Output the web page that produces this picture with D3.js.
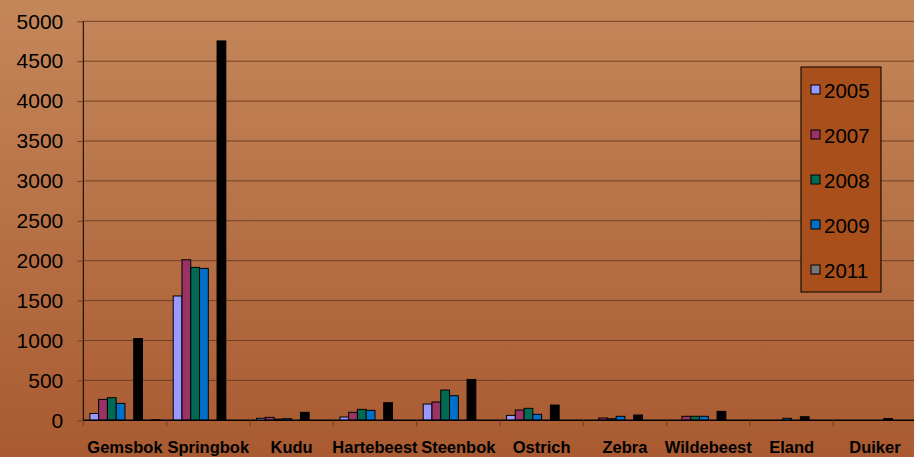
<!DOCTYPE html>
<html>
<head>
<meta charset="utf-8">
<script src="https://cdn.jsdelivr.net/npm/d3@7"></script>
<style>
  body { margin: 0; overflow: hidden; }
  text { font-family: "Liberation Sans", Arial, sans-serif; }
</style>
</head>
<body>
<script>
// Chart data
var species = ["Gemsbok", "Springbok", "Kudu", "Hartebeest", "Steenbok", "Ostrich", "Zebra", "Wildebeest", "Eland", "Duiker"];
var seriesNames = ["2005", "2007", "2008", "2009", "2011", "Series 6", "Series 7", "Series 8"];
var seriesColors = ["#9999ff", "#993366", "#006b52", "#0070c8", "#777777", "#000000", "#333399", "#000000"];
var yTicks = [0, 500, 1000, 1500, 2000, 2500, 3000, 3500, 4000, 4500, 5000];

var v2005 = [85, 1558, 25, 41, 204, 62, 0, 0, 0, 0];
var v2007 = [262, 2012, 37, 100, 229, 129, 29, 50, 0, 0];
var v2008 = [283, 1916, 15, 137, 379, 150, 20, 50, 0, 0];
var v2009 = [212, 1904, 20, 125, 308, 75, 50, 50, 25, 0];
var v2011 = [0, 0, 0, 0, 0, 0, 0, 0, 0, 0];
var vSeries6 = [1025, 4754, 100, 220, 512, 191, 66, 112, 45, 22];
var vSeries7 = [0, 0, 0, 0, 0, 0, 0, 0, 0, 0];
var vSeries8 = [6, 0, 0, 0, 0, 0, 0, 0, 0, 0];

var allValues = [v2005, v2007, v2008, v2009, v2011, vSeries6, vSeries7, vSeries8];
var legendCount = 5; // legend box only shows the first five

// Chart params
var svgWidth = 914;
var svgHeight = 457;
var margin = { top: 21.3, right: -2.6, bottom: 36.7, left: 83.3 };
var width = svgWidth - margin.left - margin.right;
var height = svgHeight - margin.top - margin.bottom;

var svg = d3.select("body")
  .append("svg")
  .attr("width", svgWidth)
  .attr("height", svgHeight);

// background gradient
var defs = svg.append("defs");
var grad = defs.append("linearGradient")
  .attr("id", "bg")
  .attr("x1", 0).attr("y1", 0).attr("x2", 0).attr("y2", 1);
grad.append("stop").attr("offset", "0%").attr("stop-color", "#c4875a");
grad.append("stop").attr("offset", "100%").attr("stop-color", "#a95a31");

svg.append("rect")
  .attr("width", svgWidth)
  .attr("height", svgHeight)
  .attr("fill", "url(#bg)");

var chartGroup = svg.append("g")
  .attr("transform", `translate(${margin.left}, ${margin.top})`);

// scales
var xScale = d3.scaleBand()
  .domain(species)
  .range([0, width])
  .padding(0);

var xInner = d3.scaleBand()
  .domain(d3.range(seriesNames.length))
  .range([0, xScale.bandwidth()])
  .paddingInner(0)
  .paddingOuter(0.75);

var yScale = d3.scaleLinear()
  .domain([0, 5000])
  .range([height, 0]);

// gridlines
chartGroup.append("g")
  .selectAll("line")
  .data(yTicks.slice(1))
  .enter()
  .append("line")
  .attr("x1", 0)
  .attr("x2", width)
  .attr("y1", d => yScale(d))
  .attr("y2", d => yScale(d))
  .attr("stroke", "#6e4127")
  .attr("stroke-width", 1);

// bars
species.forEach(function(sp, i) {
  allValues.forEach(function(vals, s) {
    var v = vals[i];
    if (v <= 0) return;
    chartGroup.append("rect")
      .attr("x", xScale(sp) + xInner(s))
      .attr("y", yScale(v))
      .attr("width", xInner.bandwidth())
      .attr("height", yScale(0) - yScale(v))
      .attr("fill", seriesColors[s])
      .attr("stroke", "#000")
      .attr("stroke-width", 1);
  });
});

// y axis
var leftAxis = d3.axisLeft(yScale)
  .tickValues(yTicks)
  .tickFormat(d3.format("d"))
  .tickSize(6)
  .tickPadding(14);

var yAxisG = chartGroup.append("g").call(leftAxis);
yAxisG.select(".domain").attr("stroke", "#000").attr("d", `M0,${height}V0`);
yAxisG.selectAll(".tick line").attr("stroke", "#6e4127");
yAxisG.selectAll("text")
  .attr("fill", "#000")
  .style("font-size", "21px")
  .style("font-family", "'Liberation Sans', Arial, sans-serif");

// x axis
var xAxisG = chartGroup.append("g")
  .attr("transform", `translate(0, ${height})`);

xAxisG.append("line")
  .attr("x1", 0).attr("x2", width)
  .attr("y1", 0).attr("y2", 0)
  .attr("stroke", "#000")
  .attr("stroke-width", 1.5);

xAxisG.selectAll(".xtick")
  .data(species)
  .enter()
  .append("line")
  .attr("x1", d => xScale(d))
  .attr("x2", d => xScale(d))
  .attr("y1", 0)
  .attr("y2", 6)
  .attr("stroke", "#6e4127");

xAxisG.selectAll(".xlabel")
  .data(species)
  .enter()
  .append("text")
  .attr("x", d => xScale(d) + xScale.bandwidth() / 2)
  .attr("y", 33)
  .attr("text-anchor", "middle")
  .style("font-size", "16.5px")
  .style("font-weight", "bold")
  .attr("fill", "#000")
  .text(d => d);

// legend
var legend = svg.append("g")
  .attr("transform", "translate(801, 67)");

legend.append("rect")
  .attr("width", 80)
  .attr("height", 225)
  .attr("fill", "#a84f1c")
  .attr("stroke", "#000")
  .attr("stroke-width", 1);

var items = legend.selectAll(".item")
  .data(seriesNames.slice(0, legendCount))
  .enter()
  .append("g")
  .attr("transform", (d, i) => `translate(10, ${23 + i * 45})`);

items.append("rect")
  .attr("x", 0)
  .attr("y", -5)
  .attr("width", 9)
  .attr("height", 9)
  .attr("fill", (d, i) => seriesColors[i])
  .attr("stroke", "#000")
  .attr("stroke-width", 1);

items.append("text")
  .attr("x", 13)
  .attr("y", 7.5)
  .style("font-size", "20.5px")
  .attr("fill", "#000")
  .text(d => d);
</script>
</body>
</html>
